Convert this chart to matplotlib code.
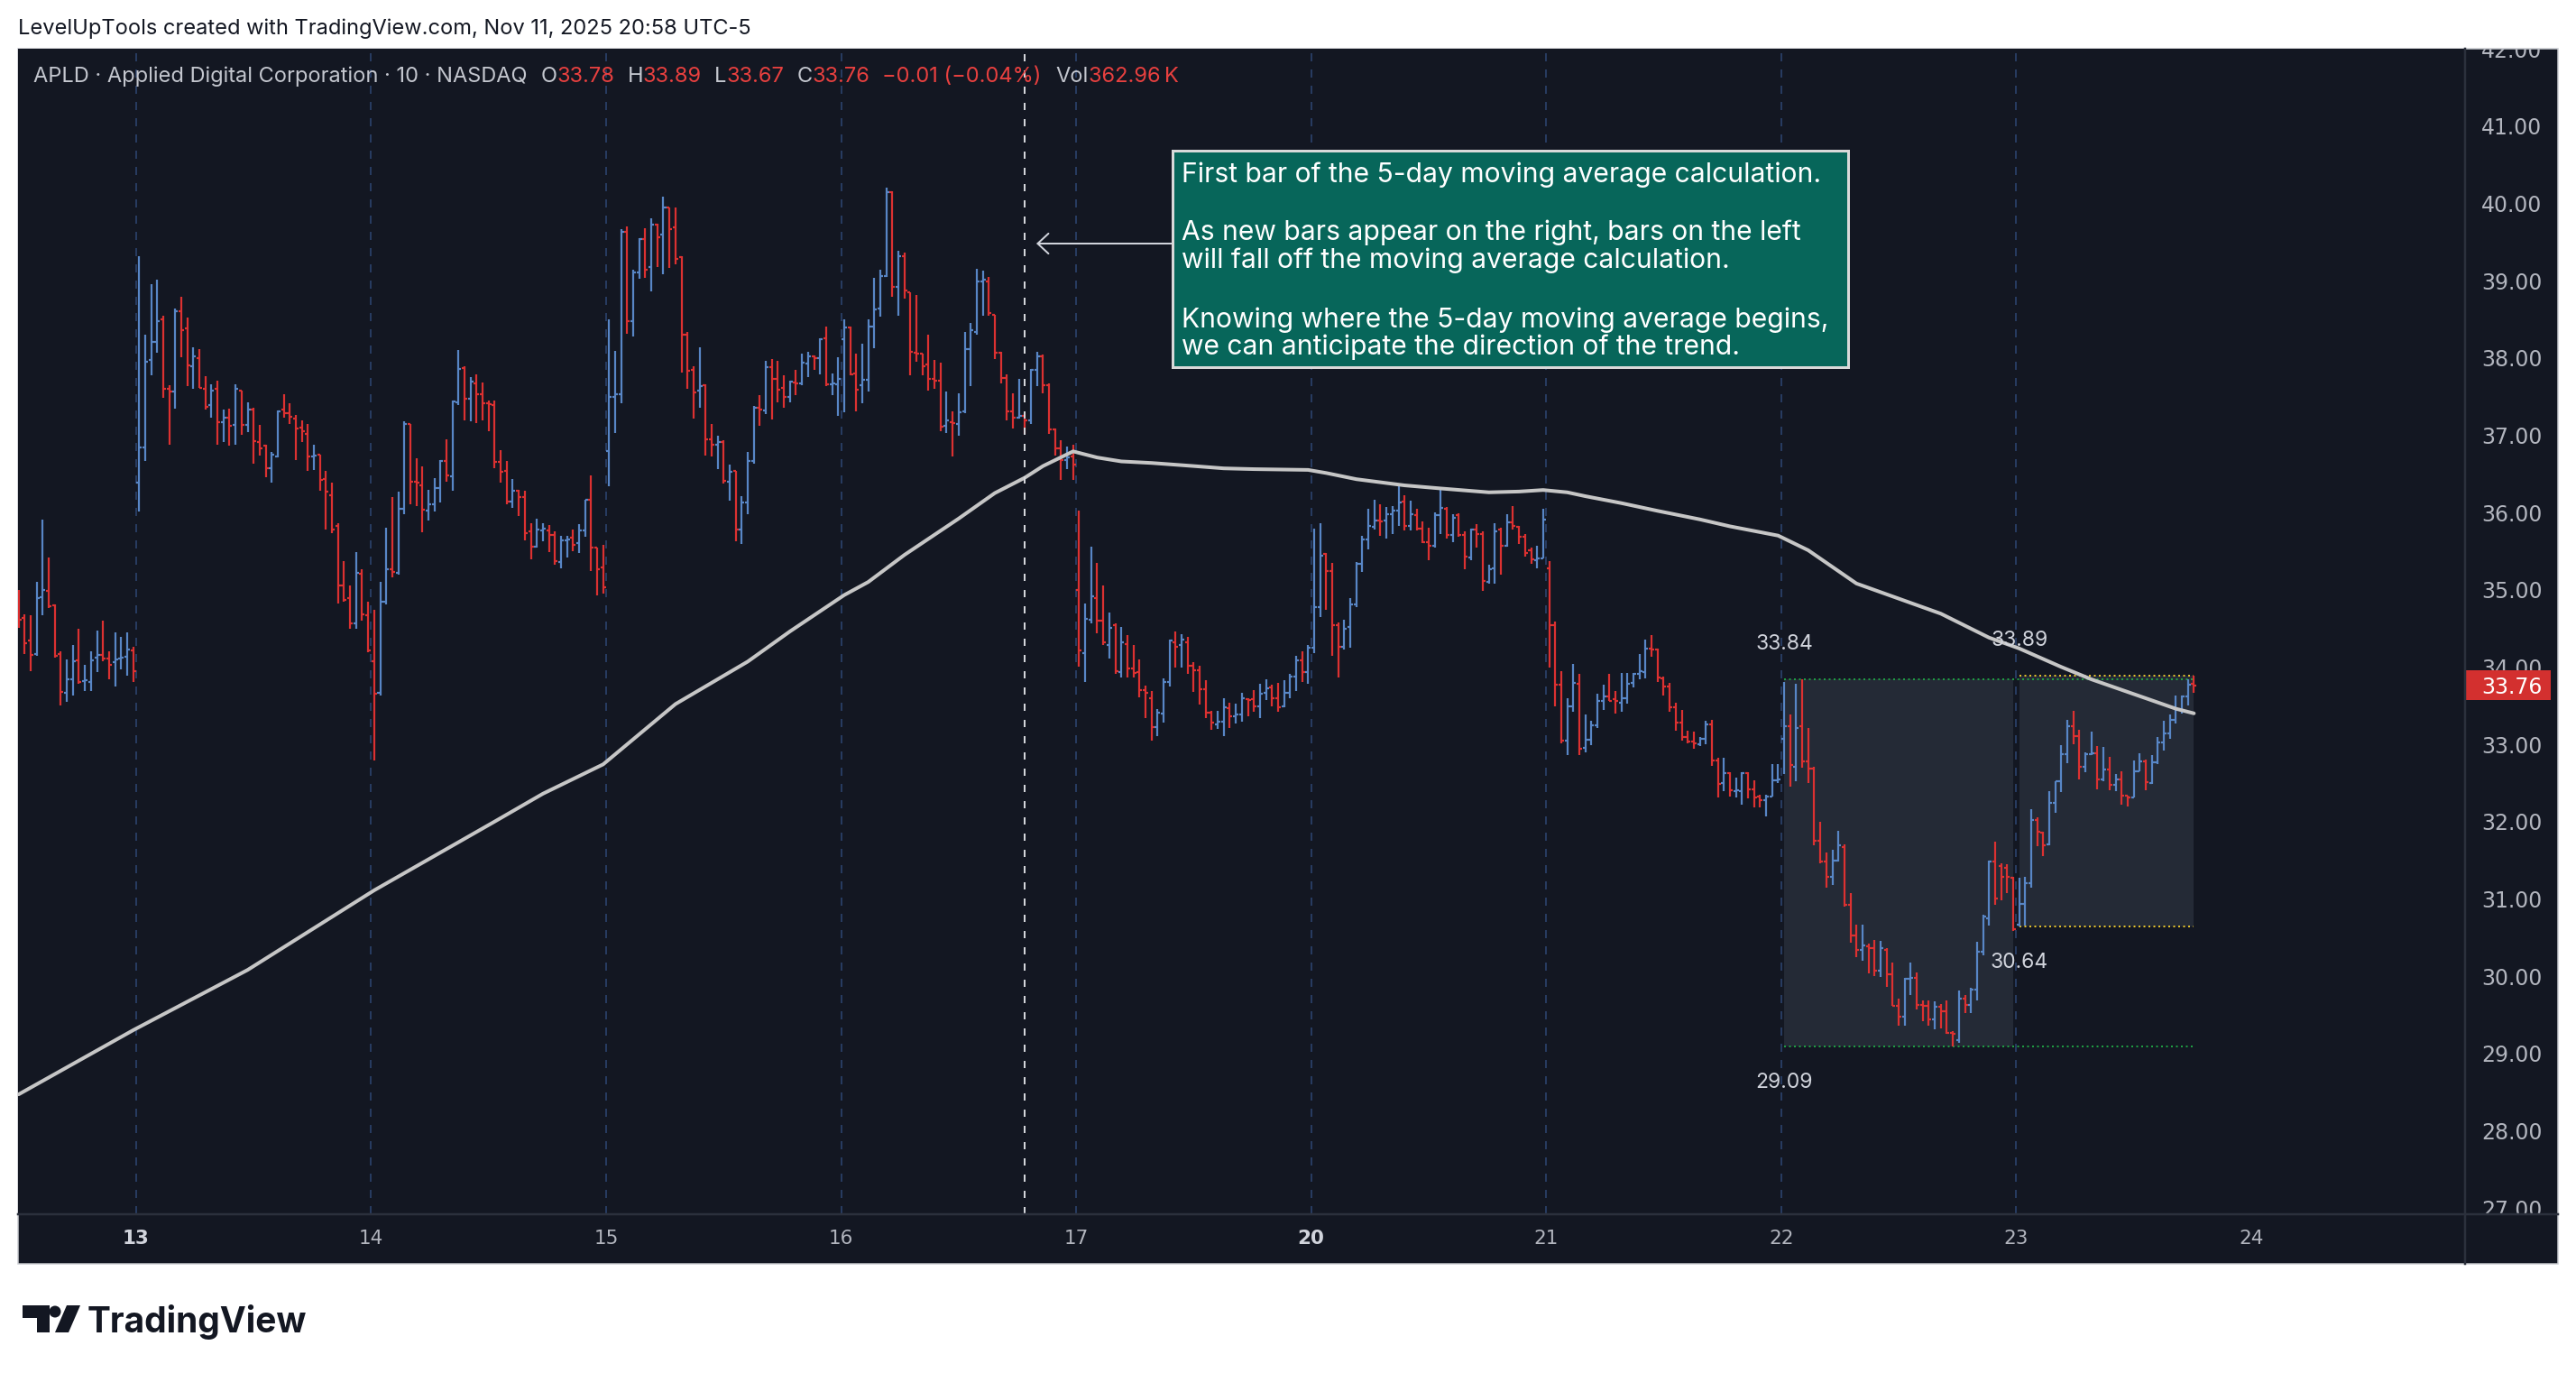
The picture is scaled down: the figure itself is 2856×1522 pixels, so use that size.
import matplotlib
matplotlib.use("Agg")
import matplotlib.pyplot as plt
import numpy as np
from matplotlib.collections import LineCollection
from matplotlib.patches import Rectangle, Polygon, Circle, FancyArrowPatch
from matplotlib.transforms import Affine2D, Bbox, TransformedBbox, blended_transform_factory
from matplotlib.ticker import FormatStrFormatter

plt.rcParams['lines.scale_dashes'] = False

# ---------------- data (APLD, 10-minute bars) ----------------
first_bar = -20          # bar index of first (partially visible) bar; 0 = first bar of the 13th
bars_per_day = 39
day_labels = ['13', '14', '15', '16', '17', '20', '21', '22', '23', '24']
bold_days = ['13', '20']

bar_open = [
    34.93, 34.64, 34.34, 34.17, 34.90, 34.99, 34.80, 34.17, 33.66, 33.84, 34.09, 33.82, 33.81, 34.12, 34.16, 34.11, 34.06, 34.11, 34.13, 34.21,
    36.38, 36.84, 37.97, 38.21, 38.50, 37.60, 37.57, 38.60, 38.38, 37.89, 38.00, 37.60, 37.39, 37.60, 37.17, 37.23, 37.13, 37.58, 37.13, 37.33,
    36.91, 36.86, 36.57, 36.72, 37.33, 37.29, 37.22, 37.10, 37.02, 36.72, 36.75, 36.43, 36.22, 35.82, 35.05, 34.89, 34.56, 35.21, 34.67,
    34.07, 33.66, 34.85, 35.26, 35.22, 36.05, 37.14, 36.40, 36.35, 36.02, 36.11, 36.32, 36.67, 36.47, 37.42, 37.87, 37.47, 37.67, 37.53, 37.41,
    37.39, 36.65, 36.54, 36.14, 36.28, 36.20, 35.75, 35.56, 35.77, 35.77, 35.71, 35.36, 35.64, 35.67, 35.60, 35.77, 36.16, 35.54, 35.29,
    36.79, 37.50, 37.53, 39.63, 38.48, 39.11, 39.54, 39.17, 39.72, 39.59, 39.94, 39.69, 39.30, 38.30, 37.84, 37.58, 37.65, 36.95, 36.88, 36.91,
    36.40, 36.54, 35.78, 36.13, 36.66, 37.36, 37.32, 37.88, 37.73, 37.61, 37.49, 37.68, 37.67, 37.93, 38.02, 38.00, 38.25, 37.66, 37.66,
    38.24, 38.39, 37.80, 37.65, 37.72, 38.41, 38.64, 39.06, 40.14, 38.92, 39.31, 38.85, 38.07, 38.05, 37.92, 37.73, 37.71, 37.12, 37.17, 37.14,
    37.31, 38.11, 38.33, 38.99, 38.99, 38.56, 38.07, 37.74, 37.31, 37.23, 37.25, 37.19, 37.84, 38.02, 37.65, 37.07, 36.83, 36.68, 36.72,
    35.00, 34.18, 34.61, 34.89, 34.60, 34.29, 34.54, 33.93, 34.30, 33.98, 33.93, 33.70, 33.59, 33.22, 33.40, 33.81, 34.32, 34.28, 34.32, 34.02,
    33.96, 33.71, 33.41, 33.26, 33.29, 33.47, 33.36, 33.39, 33.58, 33.58, 33.49, 33.66, 33.73, 33.59, 33.49, 33.67, 33.88, 34.09, 33.93,
    34.25, 34.77, 35.46, 35.24, 34.54, 34.26, 34.52, 34.81, 35.33, 35.65, 35.81, 35.90, 35.90, 35.98, 36.02, 36.14, 35.82, 35.97, 35.79, 35.62,
    35.57, 35.96, 36.05, 35.71, 35.96, 35.71, 35.42, 35.78, 35.72, 35.10, 35.28, 35.78, 35.57, 35.87, 35.81, 35.69, 35.51, 35.38, 35.40,
    35.28, 34.54, 33.77, 33.05, 33.49, 33.78, 32.95, 33.06, 33.24, 33.56, 33.62, 33.58, 33.54, 33.59, 33.79, 33.91, 33.93, 34.24, 34.23, 33.85,
    33.75, 33.48, 33.28, 33.09, 33.03, 33.00, 33.07, 33.26, 32.79, 32.50, 32.63, 32.39, 32.39, 32.63, 32.42, 32.32, 32.28, 32.32, 32.53,
    33.07, 33.23, 32.71, 33.23, 32.78, 32.69, 31.75, 31.48, 31.29, 31.50, 31.67, 30.92, 30.53, 30.34, 30.38, 30.36, 30.07, 30.34, 30.02, 29.62,
    29.48, 29.96, 29.98, 29.63, 29.61, 29.44, 29.60, 29.54, 29.27, 29.17, 29.71, 29.63, 29.82, 30.32, 30.75, 31.48, 31.42, 31.40, 31.27,
    30.67, 30.94, 31.20, 32.02, 31.86, 31.70, 32.24, 32.52, 32.87, 33.23, 33.10, 32.71, 32.87, 32.88, 32.55, 32.67, 32.48, 32.55, 32.34, 32.31,
    32.65, 32.78, 32.50, 32.77, 33.02, 33.14, 33.32, 33.46, 33.62, 33.78,
]
bar_high = [
    35.00, 34.68, 34.67, 35.10, 35.91, 35.42, 34.81, 34.20, 34.10, 34.28, 34.50, 34.03, 34.20, 34.47, 34.60, 34.20, 34.45, 34.39, 34.45, 34.26,
    39.32, 38.30, 38.95, 39.01, 38.55, 37.65, 38.64, 38.79, 38.52, 38.14, 38.11, 37.76, 37.66, 37.71, 37.33, 37.34, 37.66, 37.58, 37.43, 37.35,
    37.13, 36.88, 36.78, 37.32, 37.53, 37.41, 37.26, 37.19, 37.14, 36.88, 36.75, 36.54, 36.39, 35.86, 35.37, 35.06, 35.49, 35.26, 34.85,
    34.74, 35.10, 35.80, 36.20, 36.27, 37.18, 37.14, 36.70, 36.60, 36.29, 36.44, 36.68, 36.95, 37.45, 38.10, 37.89, 37.75, 37.79, 37.68, 37.45,
    37.45, 36.80, 36.67, 36.43, 36.29, 36.28, 35.86, 35.92, 35.86, 35.84, 35.75, 35.70, 35.70, 35.78, 35.85, 36.16, 36.48, 35.55, 35.58,
    38.50, 38.09, 39.67, 39.70, 39.14, 39.55, 39.68, 39.80, 39.74, 40.08, 39.95, 39.94, 39.32, 38.33, 37.89, 38.14, 37.66, 37.14, 36.99, 36.93,
    36.62, 36.54, 36.21, 36.78, 37.38, 37.52, 37.96, 37.99, 37.96, 37.77, 37.70, 37.84, 38.06, 38.08, 38.03, 38.25, 38.40, 37.80, 38.01,
    38.50, 38.41, 38.06, 38.18, 38.50, 39.03, 39.14, 40.20, 40.15, 39.38, 39.36, 38.85, 38.81, 38.06, 38.30, 37.97, 37.94, 37.57, 37.31, 37.54,
    38.34, 38.45, 39.15, 39.13, 39.05, 38.56, 38.08, 37.79, 37.54, 37.73, 37.29, 37.86, 38.08, 38.04, 37.67, 37.08, 36.93, 36.85, 36.88,
    36.02, 34.82, 35.56, 35.35, 35.05, 34.70, 34.56, 34.52, 34.41, 34.28, 34.10, 33.76, 33.69, 33.45, 33.85, 34.35, 34.46, 34.43, 34.39, 34.06,
    34.02, 33.83, 33.43, 33.43, 33.60, 33.54, 33.52, 33.67, 33.60, 33.70, 33.78, 33.84, 33.77, 33.79, 33.83, 33.91, 34.14, 34.20, 34.28,
    35.79, 35.86, 35.48, 35.35, 34.58, 34.61, 34.89, 35.36, 35.70, 36.05, 36.16, 36.11, 36.07, 36.08, 36.34, 36.22, 36.15, 36.05, 35.88, 35.80,
    36.00, 36.29, 36.07, 35.98, 35.99, 35.75, 35.79, 35.85, 35.75, 35.32, 35.86, 35.80, 35.98, 36.08, 35.82, 35.72, 35.55, 35.57, 36.05,
    35.37, 34.59, 33.95, 33.60, 34.04, 33.91, 33.38, 33.30, 33.65, 33.77, 33.91, 33.69, 33.92, 33.92, 33.92, 34.17, 34.36, 34.41, 34.24, 33.88,
    33.79, 33.54, 33.44, 33.18, 33.16, 33.09, 33.30, 33.31, 32.83, 32.82, 32.64, 32.57, 32.64, 32.64, 32.53, 32.35, 32.35, 32.74, 32.74,
    33.80, 33.38, 33.78, 33.84, 33.21, 32.71, 32.00, 31.60, 31.63, 31.88, 31.70, 31.07, 30.67, 30.67, 30.42, 30.47, 30.45, 30.36, 30.17, 29.71,
    29.98, 30.17, 30.05, 29.69, 29.68, 29.67, 29.64, 29.69, 29.29, 29.81, 29.75, 29.85, 30.44, 30.79, 31.49, 31.74, 31.46, 31.45, 31.28,
    31.27, 31.29, 32.16, 32.06, 31.87, 32.39, 32.52, 32.99, 33.32, 33.43, 33.19, 32.89, 33.16, 32.98, 32.97, 32.84, 32.61, 32.65, 32.34, 32.79,
    32.88, 32.80, 32.86, 33.09, 33.30, 33.38, 33.63, 33.63, 33.84, 33.89,
]
bar_low = [
    34.51, 34.17, 33.95, 34.14, 34.67, 34.76, 34.12, 33.50, 33.55, 33.63, 33.78, 33.69, 33.69, 33.93, 34.07, 33.84, 33.75, 33.97, 33.89, 33.81,
    36.01, 36.67, 37.78, 38.07, 37.48, 36.88, 37.34, 38.01, 37.64, 37.60, 37.61, 37.33, 37.23, 36.88, 36.91, 36.86, 36.88, 37.00, 37.04, 36.63,
    36.73, 36.45, 36.39, 36.71, 37.23, 37.15, 36.68, 36.91, 36.54, 36.55, 36.28, 35.78, 35.73, 34.82, 34.85, 34.50, 34.50, 34.60, 34.19,
    32.79, 33.63, 34.81, 35.16, 35.19, 35.98, 36.10, 36.08, 35.74, 35.89, 36.01, 36.13, 36.40, 36.28, 37.39, 37.19, 37.18, 37.16, 37.19, 37.05,
    36.57, 36.38, 36.10, 36.06, 35.95, 35.64, 35.39, 35.55, 35.63, 35.49, 35.32, 35.28, 35.42, 35.50, 35.47, 35.68, 35.24, 34.93, 34.95,
    36.34, 37.03, 37.41, 38.31, 38.28, 39.02, 39.03, 38.86, 39.17, 39.08, 39.16, 39.21, 37.81, 37.60, 37.21, 37.36, 36.74, 36.72, 36.56, 36.37,
    36.15, 35.63, 35.59, 35.98, 36.63, 37.12, 37.27, 37.20, 37.43, 37.36, 37.43, 37.52, 37.65, 37.75, 37.84, 37.79, 37.63, 37.52, 37.25,
    37.30, 37.78, 37.31, 37.41, 37.56, 38.13, 38.53, 39.05, 38.79, 38.54, 38.77, 37.78, 37.95, 37.78, 37.58, 37.60, 37.05, 37.03, 36.72, 36.99,
    37.28, 37.64, 38.30, 38.55, 38.55, 37.99, 37.67, 37.19, 37.09, 37.21, 37.01, 37.15, 37.64, 37.54, 37.02, 36.73, 36.42, 36.56, 36.42,
    34.01, 33.81, 34.57, 34.44, 34.28, 34.11, 33.91, 33.87, 33.86, 33.87, 33.61, 33.34, 33.05, 33.10, 33.28, 33.75, 33.99, 33.99, 33.91, 33.68,
    33.51, 33.34, 33.19, 33.20, 33.10, 33.21, 33.27, 33.29, 33.36, 33.42, 33.34, 33.57, 33.49, 33.42, 33.48, 33.60, 33.69, 33.80, 33.78,
    34.18, 34.65, 34.74, 34.15, 33.87, 34.23, 34.25, 34.78, 35.23, 35.52, 35.78, 35.70, 35.66, 35.72, 35.83, 35.77, 35.77, 35.77, 35.60, 35.38,
    35.54, 35.72, 35.66, 35.61, 35.68, 35.26, 35.38, 35.54, 34.98, 35.08, 35.08, 35.20, 35.56, 35.78, 35.59, 35.43, 35.33, 35.28, 35.40,
    33.99, 33.49, 33.01, 32.86, 33.42, 32.86, 32.89, 32.99, 33.21, 33.44, 33.56, 33.40, 33.42, 33.52, 33.73, 33.84, 33.85, 34.13, 33.80, 33.63,
    33.42, 33.18, 33.05, 33.01, 32.94, 32.98, 33.00, 32.72, 32.31, 32.39, 32.32, 32.31, 32.22, 32.30, 32.18, 32.18, 32.07, 32.32, 32.50,
    32.61, 32.45, 32.52, 32.70, 32.50, 31.69, 31.46, 31.15, 31.18, 31.48, 30.90, 30.43, 30.24, 30.20, 30.03, 30.00, 29.99, 29.86, 29.61, 29.36,
    29.36, 29.75, 29.57, 29.42, 29.36, 29.31, 29.32, 29.25, 29.09, 29.14, 29.52, 29.52, 29.68, 30.27, 30.66, 30.92, 30.98, 31.07, 30.59,
    30.64, 30.65, 31.14, 31.68, 31.55, 31.69, 32.11, 32.38, 32.76, 33.00, 32.54, 32.64, 32.86, 32.42, 32.52, 32.40, 32.39, 32.22, 32.20, 32.31,
    32.65, 32.41, 32.49, 32.74, 32.92, 33.07, 33.27, 33.40, 33.50, 33.67,
]
bar_close = [
    34.61, 34.31, 34.16, 34.89, 35.00, 34.79, 34.14, 33.68, 33.84, 34.08, 33.81, 33.83, 34.09, 34.16, 34.11, 34.03, 34.10, 34.12, 34.23, 33.95,
    36.84, 37.95, 38.21, 38.48, 37.60, 37.57, 38.60, 38.36, 37.90, 38.02, 37.61, 37.37, 37.58, 37.17, 37.23, 37.12, 37.60, 37.13, 37.33, 36.92,
    36.83, 36.57, 36.75, 37.31, 37.28, 37.24, 37.09, 37.05, 36.72, 36.74, 36.42, 36.27, 35.78, 35.06, 34.87, 34.56, 35.22, 34.68, 34.22,
    33.65, 34.85, 35.26, 35.23, 36.05, 37.14, 36.40, 36.38, 36.03, 36.11, 36.32, 36.66, 36.48, 37.44, 37.86, 37.47, 37.69, 37.53, 37.41, 37.40,
    36.65, 36.53, 36.14, 36.28, 36.20, 35.73, 35.56, 35.78, 35.79, 35.71, 35.37, 35.64, 35.65, 35.58, 35.77, 36.16, 35.54, 35.27, 35.03,
    37.50, 37.53, 39.63, 38.48, 39.10, 39.54, 39.14, 39.72, 39.56, 39.94, 39.67, 39.28, 38.30, 37.83, 37.55, 37.63, 36.95, 36.88, 36.91, 36.41,
    36.53, 35.78, 36.13, 36.66, 37.36, 37.33, 37.88, 37.73, 37.59, 37.49, 37.69, 37.67, 37.94, 38.02, 38.00, 38.24, 37.66, 37.67, 37.73,
    38.39, 37.79, 37.59, 37.72, 38.41, 38.63, 39.06, 40.14, 38.92, 39.31, 38.87, 38.08, 38.05, 37.89, 37.73, 37.71, 37.11, 37.19, 37.16, 37.30,
    38.11, 38.36, 38.99, 39.01, 38.58, 38.07, 37.74, 37.31, 37.23, 37.25, 37.19, 37.84, 38.02, 37.65, 37.07, 36.83, 36.68, 36.71, 36.62,
    34.21, 34.62, 34.92, 34.60, 34.32, 34.51, 33.95, 34.32, 33.98, 33.92, 33.70, 33.67, 33.22, 33.41, 33.81, 34.34, 34.26, 34.35, 34.02, 33.96,
    33.71, 33.41, 33.28, 33.29, 33.48, 33.36, 33.39, 33.59, 33.57, 33.49, 33.65, 33.72, 33.59, 33.48, 33.67, 33.88, 34.09, 33.93, 34.25,
    34.77, 35.44, 35.24, 34.54, 34.26, 34.50, 34.81, 35.33, 35.65, 35.83, 35.90, 35.88, 35.98, 36.02, 36.13, 35.83, 35.98, 35.79, 35.62, 35.57,
    35.96, 36.06, 35.71, 35.93, 35.71, 35.43, 35.78, 35.72, 35.11, 35.26, 35.76, 35.57, 35.87, 35.82, 35.68, 35.48, 35.39, 35.40, 35.91,
    34.54, 33.77, 33.05, 33.49, 33.79, 32.94, 33.06, 33.24, 33.56, 33.62, 33.56, 33.56, 33.59, 33.78, 33.91, 33.95, 34.24, 34.23, 33.86, 33.75,
    33.48, 33.28, 33.09, 33.03, 33.01, 33.07, 33.26, 32.79, 32.49, 32.63, 32.40, 32.41, 32.63, 32.42, 32.31, 32.28, 32.32, 32.53, 32.54,
    33.23, 32.73, 33.21, 32.78, 32.69, 31.75, 31.48, 31.29, 31.50, 31.69, 30.92, 30.53, 30.34, 30.40, 30.36, 30.07, 30.36, 30.02, 29.62, 29.48,
    29.96, 29.98, 29.63, 29.62, 29.44, 29.60, 29.54, 29.27, 29.25, 29.71, 29.63, 29.82, 30.32, 30.77, 31.48, 31.00, 31.29, 31.29, 30.61,
    30.94, 31.20, 32.02, 31.87, 31.69, 32.24, 32.52, 32.87, 33.23, 33.10, 32.71, 32.87, 32.88, 32.55, 32.67, 32.48, 32.55, 32.34, 32.31, 32.65,
    32.78, 32.51, 32.77, 33.02, 33.14, 33.32, 33.46, 33.62, 33.77, 33.76,
]

# 5-day moving average (at these bar indices)
ma_index = [-20, -1, 18, 39, 59, 67, 77, 89, 101, 108, 117, 121, 127, 136, 142, 147, 150, 155, 159, 163,
            168, 175, 180, 185, 194, 197, 202, 205, 210, 216, 224, 229, 233, 237, 240, 246, 252, 259, 264,
            272, 277, 285, 299, 307, 312, 319, 324, 331, 338, 341]
ma_value = [28.47, 29.30, 30.08, 31.11, 32.00, 32.36, 32.74, 33.52, 34.07, 34.46, 34.93, 35.10, 35.45, 35.92, 36.25,
            36.45, 36.60, 36.79, 36.71, 36.66, 36.64, 36.60, 36.57, 36.56, 36.55, 36.51, 36.43, 36.40, 36.35, 36.31,
            36.26, 36.27, 36.29, 36.26, 36.21, 36.12, 36.02, 35.91, 35.82, 35.70, 35.51, 35.08, 34.69, 34.38, 34.24,
            34.00, 33.84, 33.65, 33.46, 33.40]
ma_days = 5

title_text = "APLD \u00b7 Applied Digital Corporation \u00b7 10 \u00b7 NASDAQ"
header_text = "LevelUpTools created with TradingView.com, Nov 11, 2025 20:58 UTC-5"
change_text = "\u22120.01 (\u22120.04%)"
volume_text = "362.96\u2009K"
note_lines = ["First bar of the 5-day moving average calculation.", "",
              "As new bars appear on the right, bars on the left",
              "will fall off the moving average calculation.", "",
              "Knowing where the 5-day moving average begins,",
              "we can anticipate the direction of the trend."]

# ---------------- figure ----------------
W, H, DPI = 2856, 1522, 100
PT = 72.0 / DPI
fig = plt.figure(figsize=(W / DPI, H / DPI), dpi=DPI)
fig.patch.set_facecolor('white')
pix = Affine2D().scale(1.0 / W, -1.0 / H).translate(0, 1) + fig.transFigure

BG = '#131722'
UP = '#5886c6'
DN = '#dc3131'
GRID = '#273b60'
AXTXT = '#b2b5be'
SEPC = '#2b303c'

# chart frame (behind axes)
fig.add_artist(Rectangle((20, 54), 2816, 1347, transform=pix, facecolor=BG,
                         edgecolor='#c9cbd0', linewidth=1.5 * PT, zorder=-1))

L, R, T, B = 20, 2733, 54, 1346
ax = fig.add_axes([L / W, 1 - B / H, (R - L) / W, (B - T) / H])
ax.set_facecolor(BG)
for s in ax.spines.values():
    s.set_visible(False)

idx = np.arange(first_bar, first_bar + len(bar_close))
o = np.array(bar_open); h = np.array(bar_high); l = np.array(bar_low); c = np.array(bar_close)

# scales: 6.68 px per bar, 85.68 px per dollar
ax.set_xlim(-20.10, 386.0)
ax.set_ylim(26.919, 41.998)

# session separators
n_days = len(day_labels)
day_pos = [k * bars_per_day - 0.5 for k in range(n_days)]
for k in range(n_days - 1):
    ax.axvline(day_pos[k], color=GRID, lw=2 * PT, dashes=(9 * PT, 9 * PT), zorder=1)

# price range boxes (day 22 and day 23)
d22 = slice(7 * bars_per_day - first_bar, 8 * bars_per_day - first_bar)
d23 = slice(8 * bars_per_day - first_bar, len(idx))
i22 = idx[d22]; i23 = idx[d23]
hi22, lo22 = h[d22].max(), l[d22].min()
hi23, lo23 = h[d23].max(), l[d23].min()
ax.add_patch(Rectangle((i22[0], lo22), i22[-1] - i22[0], hi22 - lo22, facecolor='#242a36',
                       edgecolor='none', zorder=2))
ax.add_patch(Rectangle((i23[0], lo23), i23[-1] - i23[0], hi23 - lo23, facecolor='#242a36',
                       edgecolor='none', zorder=2))
GREEN = '#1f9c43'
YEL = '#e3c02c'
dots = (2 * PT, 3.5 * PT)
ax.plot([i22[0], idx[-1]], [hi22, hi22], color=GREEN, lw=2 * PT, dashes=dots, zorder=3)
ax.plot([i22[0], idx[-1]], [lo22, lo22], color=GREEN, lw=2 * PT, dashes=dots, zorder=3)
ax.plot([i23[0], idx[-1]], [hi23, hi23], color=YEL, lw=2 * PT, dashes=dots, zorder=3)
ax.plot([i23[0], idx[-1]], [lo23, lo23], color=YEL, lw=2 * PT, dashes=dots, zorder=3)
lab_kw = dict(textcoords='offset points', ha='center', va='center', color='#d1d4dc',
              fontsize=16.5, family='Inter', zorder=7, annotation_clip=False)
ax.annotate(f'{hi22:.2f}', (i22[0], hi22), xytext=(0, 39 * PT), **lab_kw)
ax.annotate(f'{lo22:.2f}', (i22[0], lo22), xytext=(0, -40 * PT), **lab_kw)
ax.annotate(f'{hi23:.2f}', (i23[0], hi23), xytext=(0, 39 * PT), **lab_kw)
ax.annotate(f'{lo23:.2f}', (i23[0], lo23), xytext=(0, -40 * PT), **lab_kw)

# OHLC bars
up = c >= o
cols = [UP if u else DN for u in up]
tick = 0.45
segs = [[(x, lo), (x, hi)] for x, lo, hi in zip(idx, l, h)]
segs += [[(x - tick, op), (x, op)] for x, op in zip(idx, o)]
segs += [[(x, cl), (x + tick, cl)] for x, cl in zip(idx, c)]
ax.add_collection(LineCollection(segs, colors=cols * 3, linewidths=2.2 * PT,
                                 capstyle='butt', zorder=4))

# moving average
ax.plot(ma_index, ma_value, color='#c6c6c6', lw=4 * PT, solid_capstyle='round',
        solid_joinstyle='round', zorder=5)

# first bar of the 5-day window
ma_start = idx[-1] - ma_days * bars_per_day + 1
ax.axvline(ma_start, color='#d4d6db', lw=2 * PT, dashes=(8 * PT, 10 * PT), zorder=6)

# axes ticks
ax.yaxis.tick_right()
ax.set_yticks(np.arange(27, 43))
ax.yaxis.set_major_formatter(FormatStrFormatter('%.2f'))
ax.tick_params(axis='y', length=0, pad=18 * PT, labelsize=17, labelcolor=AXTXT)
ax.set_xticks(day_pos)
ax.set_xticklabels(day_labels)
ax.tick_params(axis='x', length=0, pad=17 * PT, labelsize=15.5, labelcolor=AXTXT)
for lbl in ax.get_xticklabels():
    if lbl.get_text() in bold_days:
        lbl.set_fontweight('bold')
        lbl.set_color('#d1d4dc')
clipbox = TransformedBbox(Bbox([[R, T], [2836, B]]), pix)
for t in ax.yaxis.get_major_ticks():
    t.label2.set_clip_box(clipbox)
    t.label2.set_clip_on(True)

# last price label
last_c = c[-1]
trans = blended_transform_factory(pix, ax.transData)
half = 16.5 / 85.68
ax.add_patch(Rectangle((2734, last_c - half), 94, 2 * half, transform=trans, facecolor='#d3302f',
                       edgecolor='none', clip_on=False, zorder=10))
ax.text(2751, last_c, f'{last_c:.2f}', transform=trans, color='white', fontsize=17,
        va='center_baseline', ha='left', clip_on=False, zorder=11)

# frame separators
fig.add_artist(plt.Line2D([R, R], [T, 1401], transform=pix, color=SEPC, lw=2.5 * PT, zorder=3))
fig.add_artist(plt.Line2D([L, 2836], [B, B], transform=pix, color=SEPC, lw=2.5 * PT, zorder=3))

# header
fig.text(20, 32, header_text, transform=pix, va='center', ha='left', fontsize=17,
         family='Inter', color='#131722')

# legend line, laid out segment by segment
renderer = fig.canvas.get_renderer()
GREY = '#c3c6ce'
RED = '#e8403f'
ylg = 85
parts = [(title_text, GREY, 15), ('O', GREY, 0), (f'{o[-1]:.2f}', RED, 14),
         ('H', GREY, 0), (f'{h[-1]:.2f}', RED, 14), ('L', GREY, 0), (f'{l[-1]:.2f}', RED, 14),
         ('C', GREY, 0), (f'{c[-1]:.2f}', RED, 14), (change_text, RED, 16),
         ('Vol', GREY, 0), (volume_text, RED, 0)]
xcur = 37
for s, col, gap in parts:
    t = fig.text(xcur, ylg, s, transform=pix, va='center', ha='left', fontsize=17,
                 family=['Inter', 'DejaVu Sans'], color=col, zorder=8)
    bb = t.get_window_extent(renderer)
    xcur += bb.width + gap

# annotation box
fig.add_artist(Rectangle((1300, 167), 749, 240, transform=pix, facecolor='#07665a',
                         edgecolor='#d9d9d9', linewidth=3 * PT, zorder=5))
baselines = [202, 234, 266, 297, 330, 363, 393]
for yb, s in zip(baselines, note_lines):
    if s:
        fig.text(1310, yb, s, transform=pix, va='baseline', ha='left', fontsize=21.6,
                 family='Inter', color='white', zorder=6)
fig.add_artist(FancyArrowPatch((1300, 270), (1149, 270), transform=pix,
                               arrowstyle='->,head_length=0.43,head_width=0.4', mutation_scale=20,
                               color='#d1d4dc', lw=2 * PT, shrinkA=0, shrinkB=0, zorder=4))

# TradingView logo
fig.add_artist(Polygon([(25, 1447), (55, 1447), (55, 1477), (41, 1477), (41, 1461), (25, 1461)],
                       closed=True, transform=pix, facecolor='#131722', edgecolor='none'))
fig.add_artist(Circle((61, 1454), 6.5, transform=pix, facecolor='#131722', edgecolor='none'))
fig.add_artist(Polygon([(61, 1477), (74, 1447), (89, 1447), (76, 1477)], closed=True, transform=pix,
                       facecolor='#131722', edgecolor='none'))
fig.text(97, 1477, 'TradingView', transform=pix, va='baseline', ha='left', fontsize=28,
         fontweight='bold', family='Inter', color='#131722')

fig.savefig('out.png', dpi=DPI, facecolor='white')
